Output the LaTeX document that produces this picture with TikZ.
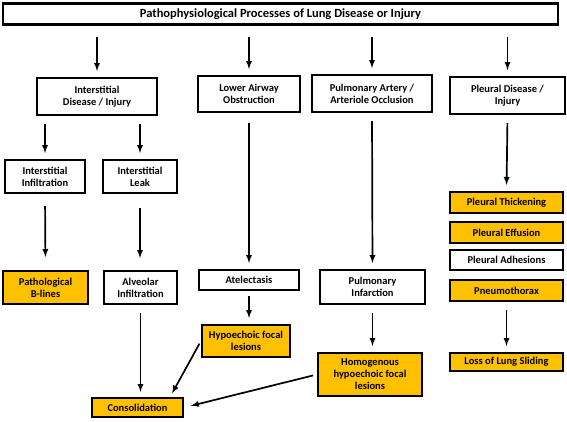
\documentclass[tikz,border=0pt]{standalone}
\usepackage{fontspec}
\setmainfont{Carlito}
\usepackage{tikz}
\usetikzlibrary{calc, positioning}
\definecolor{pyellow}{HTML}{FFC000}

\begin{document}
\begin{tikzpicture}[>=latex, x=1pt, y=-1pt,
  box/.style={draw, line width=2.2pt, fill=white, align=center, inner sep=1pt,
    font=\fontsize{10.5}{12}\selectfont\bfseries},
  ybox/.style={box, fill=pyellow},
  arr/.style={->, line width=1.7pt, shorten <=8pt, shorten >=6pt}]
  \useasboundingbox (0,0) rectangle (567,421);
  \node [box, minimum width=555, minimum height=21, font=\fontsize{12.5}{14}\selectfont\bfseries]
    (top) at (280.5,14) {Pathophysiological Processes of Lung Disease or Injury};
  % second row
  \node [box, minimum width=120, minimum height=37] (isd) at (97,96.5) {Interstitial\\Disease / Injury};
  \node [box, minimum width=102, minimum height=36] (lao) at (249,94) {Lower Airway\\Obstruction};
  \node [box, minimum width=120, minimum height=37] (pao) at (372,93.5) {Pulmonary Artery /\\Arteriole Occlusion};
  \node [box, minimum width=115, minimum height=37] (pld) at (507.5,95.5) {Pleural Disease /\\Injury};
  % third row
  \node [box, minimum width=80, minimum height=33] (iinf) at (45,176.5) {Interstitial\\Infiltration};
  \node [box, minimum width=74, minimum height=33] (ileak) at (140,176.5) {Interstitial\\Leak};
  % fourth row
  \node [ybox, minimum width=85, minimum height=33] (pbl) at (45.5,287.5) {Pathological\\B-lines};
  \node [box, minimum width=73, minimum height=33] (ainf) at (140.5,287.5) {Alveolar\\Infiltration};
  \node [box, minimum width=100, minimum height=20] (atel) at (249,280) {Atelectasis};
  \node [box, minimum width=105, minimum height=34] (pinf) at (372.5,287) {Pulmonary\\Infarction};
  % pleural column
  \node [ybox, minimum width=113, minimum height=21] (pthick) at (506.5,202.5) {Pleural Thickening};
  \node [ybox, minimum width=113, minimum height=21] (peff) at (506.5,232.5) {Pleural Effusion};
  \node [box, minimum width=113, minimum height=20] (padh) at (506.5,260) {Pleural Adhesions};
  \node [ybox, minimum width=113, minimum height=21] (pneu) at (506.5,290.5) {Pneumothorax};
  \node [ybox, minimum width=113, minimum height=18] (loss) at (506.5,362) {Loss of Lung Sliding};
  % lower boxes
  \node [ybox, minimum width=88, minimum height=32] (hypo) at (246,341) {Hypoechoic focal\\lesions};
  \node [ybox, minimum width=104, minimum height=43] (homo) at (370,374.5) {Homogenous\\hypoechoic focal\\lesions};
  \node [ybox, minimum width=91, minimum height=19] (cons) at (137.5,407.5) {Consolidation};
  % arrows
  \draw [arr, shorten <=11pt] (top.south -| isd.north) -- (isd.north);
  \draw [arr, shorten <=11pt] (top.south -| lao.north) -- (lao.north);
  \draw [arr, shorten <=11pt] (top.south -| pao.north) -- (pao.north);
  \draw [arr, shorten <=11pt] (top.south -| pld.north) -- (pld.north);
  \draw [arr] (isd.south -| iinf.north) -- (iinf.north);
  \draw [arr] (isd.south -| ileak.north) -- (ileak.north);
  \draw [arr, shorten <=12pt, shorten >=13pt] (iinf.south) -- (pbl.north);
  \draw [arr, shorten <=14pt, shorten >=12pt] (ileak.south) -- (ainf.north -| ileak.south);
  \draw [arr, shorten <=10pt] (lao.south) -- (atel.north);
  \draw [arr] (pao.south) -- (pinf.north);
  \draw [arr] (pld.south) -- (pthick.north);
  \draw [arr] (pneu.south) -- (loss.north);
  \draw [arr, shorten <=5pt] (atel.south) -- (hypo.north -| atel.south);
  \draw [arr] (pinf.south) -- (homo.north -| pinf.south);
  \draw [arr, shorten >=5pt] (ainf.south) -- (cons.north -| ainf.south);
  \draw [arr, shorten <=3pt, shorten >=4pt] (hypo.west) -- (cons.18);
  \draw [arr, shorten <=4pt, shorten >=7pt] (homo.west) -- (cons.east);
\end{tikzpicture}
\end{document}
